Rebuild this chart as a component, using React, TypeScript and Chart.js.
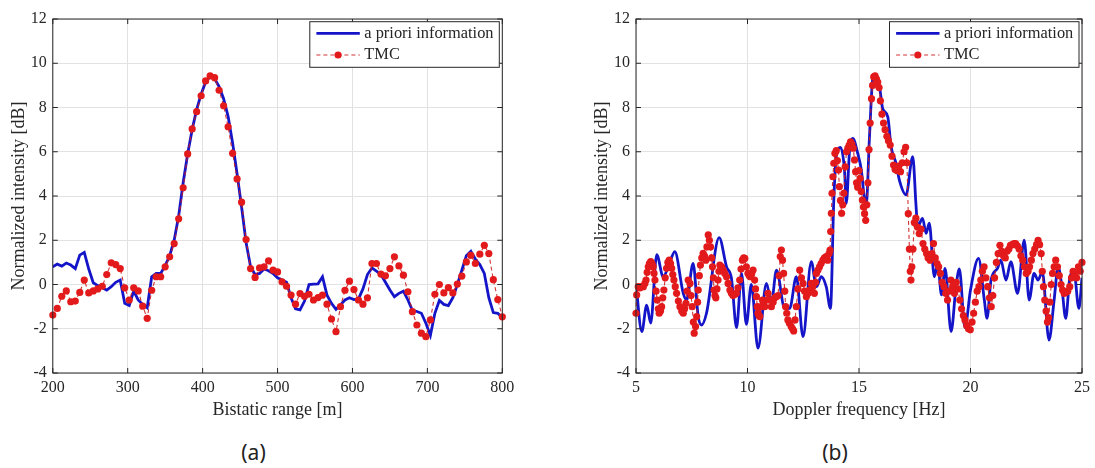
import React, { useEffect, useRef } from "react";
import { Chart, registerables } from "chart.js";

Chart.register(...registerables);

// ---------- Panel (a): bistatic range ----------
const rangeA = [
  200, 206, 212, 218, 224, 230, 236, 242, 248, 254,
  260, 266, 272, 278, 284, 290, 296, 302, 308, 314,
  320, 326, 332, 338, 344, 350, 356, 362, 368, 374,
  380, 386, 392, 398, 404, 410, 416, 422, 428, 434,
  440, 446, 452, 458, 464, 470, 476, 482, 488, 494,
  500, 506, 512, 518, 524, 530, 536, 542, 548, 554,
  560, 566, 572, 578, 584, 590, 596, 602, 608, 614,
  620, 626, 632, 638, 644, 650, 656, 662, 668, 674,
  680, 686, 692, 698, 704, 710, 716, 722, 728, 734,
  740, 746, 752, 758, 764, 770, 776, 782, 788, 794,
  800,
];

const aprioriA = [
  0.8, 0.92, 0.83, 0.97, 0.88, 0.72, 1.33, 1.45, 0.7, 0.08,
  -0.05, -0.15, -0.25, -0.1, 0.1, 0.2, -0.85, -0.95, -0.3, -0.7,
  -0.9, -1.05, 0.35, 0.5, 0.5, 0.85, 1.3, 2.0, 3.1, 4.6,
  5.9, 7.0, 7.9, 8.6, 9.15, 9.4, 9.3, 8.95, 8.4, 7.6,
  6.4, 5.0, 3.5, 1.9, 0.8, 0.45, 0.5, 0.7, 0.62, 0.5,
  0.3, 0.2, 0.1, -0.6, -1.1, -1.15, -0.75, 0.0, 0.02, 0.03,
  0.35, -0.48, -0.85, -1.12, -0.92, -0.7, -0.6, -0.68, -0.65, -0.2,
  0.45, 0.75, 0.6, 0.45, 0.1, -0.25, -0.55, -0.4, -0.3, -0.7,
  -1.17, -1.22, -1.3, -1.75, -2.3, -1.3, -0.72, -0.9, -0.95, -0.6,
  0.0, 0.65, 1.3, 1.5, 1.15, 0.9, 0.5, -0.6, -1.27, -1.3,
  -1.5,
];

const tmcA = [
  -1.38, -1.08, -0.53, -0.29, -0.78, -0.75, -0.36, 0.2, -0.38, -0.29,
  -0.2, -0.08, 0.45, 0.98, 0.9, 0.72, -0.15, -0.7, -0.15, -0.29,
  -0.98, -1.53, -0.26, 0.35, 0.35, 0.8, 1.25, 1.85, 2.97, 4.37,
  5.9, 7.03, 7.81, 8.53, 9.2, 9.43, 9.35, 8.78, 8.08, 7.13,
  5.93, 4.77, 3.72, 2.03, 0.72, 0.32, 0.75, 0.8, 1.07, 0.65,
  0.57, 0.12, -0.08, -0.48, -0.89, -0.41, -0.53, -0.44, -0.7, -0.59,
  -0.48, -0.89, -1.56, -2.13, -1.0, -0.26, 0.15, -0.23, -0.7, -0.89,
  -0.6, 0.95, 0.95, 0.47, 0.39, 0.72, 1.25, 0.84, 0.42, -0.33,
  -1.23, -1.83, -2.2, -2.36, -1.6, -0.44, 0.0, -0.38, -0.14, -0.38,
  0.02, 0.38, 1.02, 1.32, 0.95, 1.37, 1.77, 1.4, 0.22, -0.68,
  -1.46,
];

// ---------- Panel (b): Doppler frequency ----------
const freqBlueB = [
  5.0, 5.26, 5.48, 5.66, 5.93, 6.22, 6.45, 6.74, 7.12, 7.27,
  7.56, 7.79, 7.94, 8.16, 8.73, 9.06, 9.28, 9.51, 9.73, 9.95,
  10.17, 10.47, 10.85, 11.07, 11.3, 11.67, 11.89, 12.19, 12.49, 12.86,
  13.09, 13.31, 13.53, 13.72, 13.87, 13.98, 14.17, 14.35, 14.43, 14.58,
  14.72, 14.95, 15.1, 15.25, 15.32, 15.47, 15.62, 15.72, 15.92, 16.06,
  16.29, 16.44, 16.66, 16.81, 17.11, 17.41, 17.56, 17.63, 17.85, 18.01,
  18.15, 18.38, 18.53, 18.7, 18.86, 19.13, 19.35, 19.5, 19.75, 20.0,
  20.36, 20.62, 20.74, 20.92, 21.21, 21.36, 21.59, 21.81, 22.11, 22.41,
  22.63, 22.85, 23.03, 23.22, 23.52, 23.75, 23.93, 24.08, 24.27, 24.46,
  24.64, 24.86, 25.0,
];

const aprioriB = [
  0.0, -2.13, -0.93, -1.75, 1.35, 0.35, 0.8, 1.48, -0.4, -0.7,
  0.95, -1.45, -1.83, -1.3, 2.12, 0.8, 0.28, -1.95, 0.5, -1.8,
  0.0, -2.88, 0.05, -0.85, 0.65, -1.08, -1.08, 0.35, -2.36, 1.03,
  -0.1, 0.35, -0.1, -1.08, 3.82, 5.78, 6.2, 5.17, 3.67, 6.08,
  6.6, 5.9, 5.2, 3.82, 3.52, 6.68, 9.32, 9.47, 8.94, 7.96,
  7.58, 6.23, 5.48, 4.72, 4.05, 5.78, 3.52, 2.61, 2.99, 2.31,
  2.77, 0.35, 0.95, -0.47, 0.73, -2.13, -0.1, 0.7, -1.95, -0.25,
  1.18, -0.7, -1.53, 0.2, 0.73, 1.1, 0.2, 1.03, -0.4, 2.01,
  -0.7, 0.5, 0.2, 0.58, -2.51, -0.7, 0.8, 0.05, -1.53, 0.35,
  0.58, -1.08, 0.3,
];

const freqRedB = [
  5.00, 5.03, 5.10, 5.18, 5.25, 5.33, 5.40, 5.45, 5.50, 5.55, 5.60, 5.66, 5.72, 5.77, 5.81, 5.85, 5.90, 5.95, 6.00, 6.04,
  6.10, 6.15, 6.20, 6.25, 6.31, 6.37, 6.43, 6.49, 6.55, 6.60, 6.65, 6.70, 6.76, 6.82, 6.90, 6.97, 7.05, 7.12, 7.18, 7.24,
  7.29, 7.34, 7.42, 7.47, 7.52, 7.57, 7.61, 7.67, 7.72, 7.76, 7.79, 7.84, 7.89, 7.95, 8.01, 8.07, 8.13, 8.18, 8.24, 8.29,
  8.34, 8.39, 8.43, 8.47, 8.50, 8.54, 8.58, 8.63, 8.68, 8.72, 8.76, 8.84, 8.91, 8.98, 9.06, 9.13, 9.21, 9.28, 9.35, 9.42,
  9.50, 9.57, 9.65, 9.71, 9.77, 9.83, 9.88, 9.95, 10.02, 10.08, 10.13, 10.19, 10.25, 10.32, 10.36, 10.40, 10.44, 10.47, 10.51, 10.55,
  10.61, 10.67, 10.72, 10.77, 10.85, 10.92, 11.00, 11.07, 11.15, 11.22, 11.30, 11.37, 11.42, 11.47, 11.52, 11.57, 11.62, 11.67, 11.71, 11.76,
  11.81, 11.88, 11.96, 12.02, 12.07, 12.13, 12.19, 12.26, 12.34, 12.42, 12.49, 12.56, 12.64, 12.72, 12.79, 12.86, 12.93, 13.00, 13.05, 13.09,
  13.16, 13.23, 13.30, 13.38, 13.45, 13.53, 13.60, 13.66, 13.70, 13.73, 13.76, 13.79, 13.83, 13.87, 13.92, 13.98, 14.03, 14.08, 14.12, 14.17,
  14.22, 14.27, 14.32, 14.38, 14.44, 14.50, 14.56, 14.62, 14.68, 14.74, 14.80, 14.85, 14.89, 14.94, 15.00, 15.05, 15.10, 15.15, 15.20, 15.25,
  15.30, 15.35, 15.40, 15.45, 15.50, 15.56, 15.61, 15.66, 15.72, 15.78, 15.84, 15.90, 15.96, 16.03, 16.10, 16.17, 16.25, 16.32, 16.40, 16.48,
  16.55, 16.62, 16.70, 16.78, 16.86, 16.94, 17.02, 17.09, 17.15, 17.21, 17.26, 17.30, 17.33, 17.37, 17.42, 17.48, 17.55, 17.62, 17.70, 17.78,
  17.87, 17.95, 18.03, 18.10, 18.19, 18.27, 18.34, 18.42, 18.50, 18.57, 18.65, 18.73, 18.81, 18.89, 18.97, 19.05, 19.12, 19.20, 19.28, 19.36,
  19.44, 19.52, 19.60, 19.68, 19.75, 19.83, 19.91, 19.99, 20.07, 20.14, 20.22, 20.30, 20.38, 20.46, 20.53, 20.61, 20.69, 20.77, 20.85, 20.93,
  21.00, 21.08, 21.16, 21.24, 21.32, 21.40, 21.48, 21.56, 21.64, 21.72, 21.79, 21.87, 21.95, 22.02, 22.10, 22.18, 22.26, 22.34, 22.42, 22.50,
  22.58, 22.65, 22.73, 22.80, 22.88, 22.96, 23.03, 23.10, 23.17, 23.22, 23.27, 23.33, 23.39, 23.45, 23.50, 23.56, 23.62, 23.68, 23.75, 23.82,
  23.90, 23.98, 24.06, 24.13, 24.20, 24.28, 24.36, 24.45, 24.53, 24.60, 24.68, 24.76, 24.84, 24.92, 25.00,
];

const tmcB = [
  -1.3, -0.47, -0.1, -0.15, -0.1, -0.1, 0.05, 0.2, 0.55, 0.8, 0.95, 1.03, 0.95, 0.8, 0.5, 0.2, -0.3, -0.7, -1.1, -1.3,
  -1.2, -1.0, -0.6, -0.25, 0.3, 0.73, 1.0, 1.1, 0.95, 0.73, 0.45, 0.2, -0.1, -0.4, -0.75, -1.0, -1.2, -1.3, -1.1, -0.85,
  -0.3, 0.2, 0.05, -0.5, -1.0, -1.7, -2.2, -1.9, -1.45, -0.8, -0.25, 0.4, 0.88, 1.2, 1.41, 1.3, 1.1, 1.7, 2.24, 2.0,
  1.7, 1.2, 0.8, 0.3, -0.25, -0.5, -0.6, -0.2, 0.2, 0.6, 0.88, 0.8, 0.65, 0.5, 0.35, 0.05, -0.25, -0.4, -0.5, -0.45,
  -0.4, -0.15, 0.2, 0.7, 1.1, 1.2, 1.18, 0.8, 0.5, 0.4, 0.35, 0.5, 0.65, 0.2, -0.2, -0.55, -1.0, -1.3, -1.4, -1.45,
  -1.0, -0.7, -0.9, -1.0, -0.7, -0.4, -0.7, -1.0, -0.8, -0.6, -0.55, -0.5, 0.4, 1.26, 1.56, 1.1, 0.5, -0.3, -1.0, -1.3,
  -1.6, -1.75, -1.9, -2.0, -2.1, -1.6, -1.0, -0.2, 0.65, 0.3, 0.05, -0.3, -0.55, -0.4, -0.25, 0.05, -0.1, -0.4, 0.1, 0.5,
  0.65, 0.8, 0.95, 1.1, 1.2, 1.26, 1.1, 1.4, 1.56, 2.39, 3.22, 4.12, 4.87, 5.48, 5.93, 6.05, 5.6, 5.17, 4.42, 3.8,
  3.22, 3.6, 4.12, 5.32, 6.0, 6.16, 6.3, 6.45, 6.35, 6.16, 5.63, 5.1, 4.6, 4.4, 5.15, 4.8, 4.2, 3.82, 3.5, 3.2,
  2.9, 3.6, 4.6, 6.1, 7.3, 8.4, 9.0, 9.38, 9.43, 9.3, 9.15, 8.9, 8.3, 7.7, 7.3, 7.0, 6.7, 6.5, 6.3, 5.8,
  5.4, 5.2, 5.15, 5.35, 5.1, 5.5, 6.0, 6.2, 5.5, 3.2, 1.6, 0.6, 0.2, 0.8, 1.6, 2.8, 3.0, 2.6, 2.3, 2.5,
  1.85, 1.6, 1.4, 1.2, 1.1, 1.4, 1.85, 1.2, 0.95, 0.8, 0.5, 0.1, -0.1, -0.4, -0.7, -0.3, 0.2, -0.1, -0.4, 0.1,
  -0.2, -0.7, -1.1, -1.4, -1.6, -1.85, -2.0, -2.05, -1.7, -1.3, -0.8, -0.3, -0.1, 0.2, 0.6, 0.8, 0.3, -0.1, -0.6, -1.0,
  -0.5, 0.3, 1.0, 1.4, 1.77, 1.5, 1.3, 1.2, 1.5, 1.6, 1.77, 1.8, 1.85, 1.85, 1.75, 1.6, 1.3, 1.1, 0.8, 0.5,
  0.6, 0.8, 1.1, 1.4, 1.6, 1.8, 2.0, 1.8, 1.4, 0.6, -0.1, -0.7, -1.2, -1.7, -1.5, -0.8, 0.0, 0.5, 0.8, 1.1,
  0.8, 0.4, 0.0, -0.25, -0.4, -0.35, -0.3, -0.1, 0.3, 0.6, 0.5, 0.3, 0.8, 0.6, 1.0,
];

// ---------- Axis / text labels ----------
const yTicks = [-4, -2, 0, 2, 4, 6, 8, 10, 12];
const xTicksA = [200, 300, 400, 500, 600, 700, 800];
const xTicksB = [5, 10, 15, 20, 25];
const legendLabels = ["a priori information", "TMC"];
const xTitleA = "Bistatic range [m]";
const xTitleB = "Doppler frequency [Hz]";
const yTitle = "Normalized intensity [dB]";
const captionA = "(a)";
const captionB = "(b)";

// ---------- Styles ----------
const SERIF = "'Liberation Serif', 'Times New Roman', Times, serif";
const BLUE = "#1414c8";
const RED = "#e31a1c";
const RED_LINE = "rgba(205, 30, 30, 0.9)";
const AXIS = "#262626";
const GRID = "#e2e2e2";

type PanelSpec = {
  blueX: number[];
  blueY: number[];
  redX: number[];
  redY: number[];
  xMin: number;
  xMax: number;
  xTicks: number[];
  xTitle: string;
  padLeft: number;
  padRight: number;
  smooth: boolean;
};

const framePlugin = {
  id: "matlabFrame",
  afterDatasetsDraw(chart: any) {
    const { ctx, chartArea: a, scales } = chart;
    ctx.save();
    ctx.strokeStyle = AXIS;
    ctx.lineWidth = 1;
    ctx.setLineDash([]);
    // inward ticks
    const tl = 5;
    ctx.beginPath();
    for (const t of scales.x.ticks) {
      const px = scales.x.getPixelForValue(t.value);
      ctx.moveTo(px, a.bottom);
      ctx.lineTo(px, a.bottom - tl);
      ctx.moveTo(px, a.top);
      ctx.lineTo(px, a.top + tl);
    }
    for (const t of scales.y.ticks) {
      const py = scales.y.getPixelForValue(t.value);
      ctx.moveTo(a.left, py);
      ctx.lineTo(a.left + tl, py);
      ctx.moveTo(a.right, py);
      ctx.lineTo(a.right - tl, py);
    }
    ctx.stroke();
    // box
    ctx.strokeRect(a.left, a.top, a.right - a.left, a.bottom - a.top);

    // legend
    const bw = 189.5;
    const bh = 45.6;
    const bx = a.right - 3 - bw;
    const by = a.top + 2.7;
    ctx.fillStyle = "#ffffff";
    ctx.fillRect(bx, by, bw, bh);
    ctx.strokeStyle = AXIS;
    ctx.lineWidth = 1;
    ctx.strokeRect(bx, by, bw, bh);
    const sx0 = bx + 6.6;
    const sx1 = bx + 50;
    const r1 = by + 11.6;
    const r2 = by + 33.3;
    ctx.strokeStyle = BLUE;
    ctx.lineWidth = 2.8;
    ctx.beginPath();
    ctx.moveTo(sx0, r1);
    ctx.lineTo(sx1, r1);
    ctx.stroke();
    ctx.strokeStyle = RED_LINE;
    ctx.lineWidth = 1.2;
    ctx.setLineDash([4, 3]);
    ctx.beginPath();
    ctx.moveTo(sx0, r2);
    ctx.lineTo(sx1, r2);
    ctx.stroke();
    ctx.setLineDash([]);
    ctx.fillStyle = RED;
    ctx.beginPath();
    ctx.arc((sx0 + sx1) / 2, r2, 3.6, 0, Math.PI * 2);
    ctx.fill();
    ctx.fillStyle = AXIS;
    ctx.font = `16.4px ${SERIF}`;
    ctx.textAlign = "left";
    ctx.textBaseline = "middle";
    ctx.fillText(legendLabels[0], bx + 54.5, r1);
    ctx.fillText(legendLabels[1], bx + 54.5, r2);
    ctx.restore();
  },
};

function buildChart(canvas: HTMLCanvasElement, p: PanelSpec) {
  const toPts = (xs: number[], ys: number[]) => xs.map((x, i) => ({ x, y: ys[i] }));
  return new Chart(canvas, {
    type: "line",
    data: {
      datasets: [
        {
          label: legendLabels[1],
          data: toPts(p.redX, p.redY),
          borderColor: RED_LINE,
          borderWidth: 1.1,
          borderDash: [4, 3],
          pointRadius: 3.6,
          pointHoverRadius: 3.6,
          pointBackgroundColor: RED,
          pointBorderWidth: 0,
          tension: 0,
          order: 0,
          clip: 5,
        },
        {
          label: legendLabels[0],
          data: toPts(p.blueX, p.blueY),
          borderColor: BLUE,
          borderWidth: 2.8,
          pointRadius: 0,
          pointHoverRadius: 0,
          tension: 0,
          cubicInterpolationMode: p.smooth ? "monotone" : "default",
          order: 1,
        },
      ] as any,
    },
    options: {
      responsive: false,
      animation: false,
      events: [],
      layout: { padding: { left: p.padLeft, right: p.padRight, top: 19, bottom: 0 } },
      plugins: { legend: { display: false }, tooltip: { enabled: false } },
      scales: {
        x: {
          type: "linear",
          min: p.xMin,
          max: p.xMax,
          afterBuildTicks: (s: any) => {
            s.ticks = p.xTicks.map((v) => ({ value: v }));
          },
          afterFit: (s: any) => {
            s.height = 57;
          },
          grid: { color: GRID, drawTicks: false, lineWidth: 1 },
          border: { display: false },
          ticks: {
            padding: 5,
            color: AXIS,
            font: { family: SERIF, size: 16 },
            maxRotation: 0,
            autoSkip: false,
            callback: (v: any) => String(v),
          },
          title: {
            display: true,
            text: p.xTitle,
            color: AXIS,
            font: { family: SERIF, size: 18 },
            padding: { top: 0, bottom: 9.2 },
          },
        },
        y: {
          type: "linear",
          min: -4,
          max: 12,
          afterBuildTicks: (s: any) => {
            s.ticks = yTicks.map((v) => ({ value: v }));
          },
          afterFit: (s: any) => {
            s.width = 52.8;
          },
          grid: { color: GRID, drawTicks: false, lineWidth: 1 },
          border: { display: false },
          ticks: {
            padding: 6,
            color: AXIS,
            font: { family: SERIF, size: 16 },
            autoSkip: false,
            callback: (v: any) => String(v),
          },
          title: {
            display: true,
            text: yTitle,
            color: AXIS,
            font: { family: SERIF, size: 18 },
            padding: { top: 8.2, bottom: 0 },
          },
        },
      },
    } as any,
    plugins: [framePlugin],
  });
}

export default function App() {
  const refA = useRef<HTMLCanvasElement>(null);
  const refB = useRef<HTMLCanvasElement>(null);

  useEffect(() => {
    const chartA = buildChart(refA.current!, {
      blueX: rangeA,
      blueY: aprioriA,
      redX: rangeA,
      redY: tmcA,
      xMin: 200,
      xMax: 800,
      xTicks: xTicksA,
      xTitle: xTitleA,
      padLeft: 0,
      padRight: 42.7,
      smooth: false,
    });
    const chartB = buildChart(refB.current!, {
      blueX: freqBlueB,
      blueY: aprioriB,
      redX: freqRedB,
      redY: tmcB,
      xMin: 5,
      xMax: 25,
      xTicks: xTicksB,
      xTitle: xTitleB,
      padLeft: 38.2,
      padRight: 12,
      smooth: true,
    });
    return () => {
      chartA.destroy();
      chartB.destroy();
    };
  }, []);

  const captionStyle: React.CSSProperties = {
    position: "absolute",
    top: 439,
    transform: "translateX(-50%)",
    fontFamily: "'Noto Sans', 'Open Sans', sans-serif",
    fontSize: 21,
    lineHeight: "26px",
    color: "#222",
    whiteSpace: "nowrap",
  };

  return (
    <div
      style={{
        position: "fixed",
        left: 0,
        top: 0,
        width: 1095,
        height: 468,
        background: "#ffffff",
        overflow: "hidden",
      }}
    >
      <canvas
        ref={refA}
        width={545}
        height={430}
        style={{ position: "absolute", left: 0, top: 0, width: 545, height: 430 }}
      />
      <canvas
        ref={refB}
        width={550}
        height={430}
        style={{ position: "absolute", left: 545, top: 0, width: 550, height: 430 }}
      />
      <div style={{ ...captionStyle, left: 253.5 }}>{captionA}</div>
      <div style={{ ...captionStyle, left: 835 }}>{captionB}</div>
    </div>
  );
}
